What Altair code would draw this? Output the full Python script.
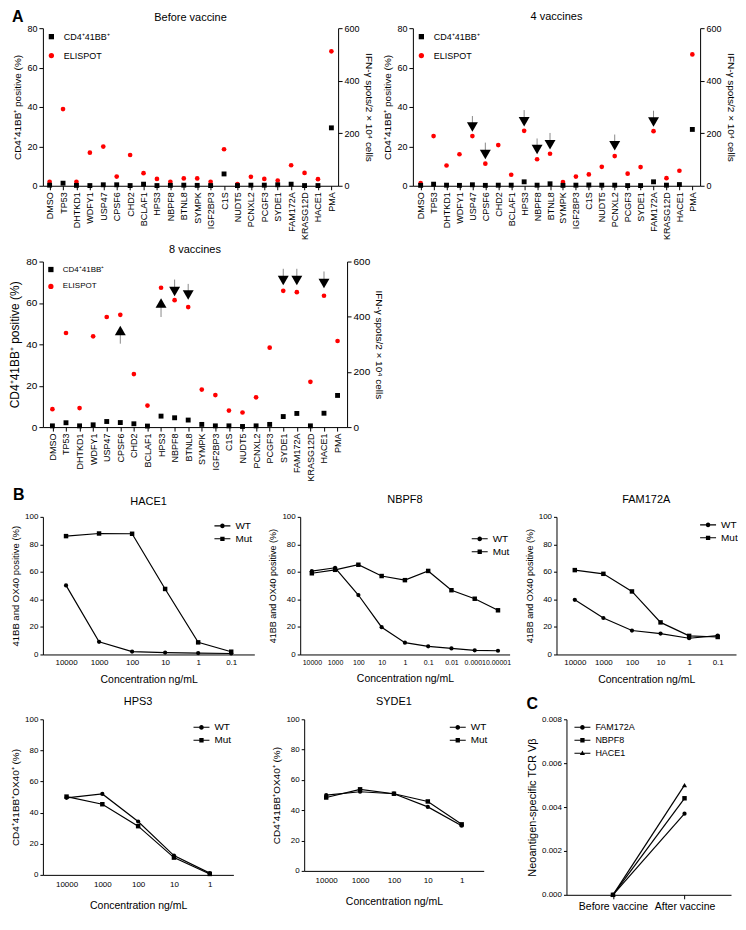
import altair as alt
import pandas as pd

FONT = "Liberation Sans"

# ---------------- Panel A data ----------------
genes = ["DMSO", "TP53", "DHTKD1", "WDFY1", "USP47", "CPSF6", "CHD2", "BCLAF1", "HPS3", "NBPF8",
         "BTNL8", "SYMPK", "IGF2BP3", "C1S", "NUDT5", "PCNXL2", "PCGF3", "SYDE1", "FAM172A",
         "KRASG12D", "HACE1", "PMA"]

before_cd4 = [0.3, 1.3, 0.2, 0.1, 0.5, 0.5, 0.1, 0.8, 0.1, 0.2, 0.3, 0.2, 0.1, 6.0, 0.1, 0.3, 0.3, 0.5, 0.8, 0.1, 0.1, 29.4]
before_elispot = [15, 292, 15, 126, 149, 35, 117, 48, 26, 15, 28, 28, 15, 139, 6, 34, 26, 20, 78, 49, 25, 512]
vac4_cd4 = [0.2, 0.8, 0.3, 0.2, 0.5, 0.2, 0.3, 0.3, 2.0, 0.3, 1.0, 0.2, 0.3, 0.4, 0.3, 0.3, 0.1, 0.1, 2.0, 0.3, 0.6, 28.6]
vac4_elispot = [10, 189, 77, 120, 189, 84, 155, 42, 209, 101, 122, 14, 35, 43, 72, 113, 46, 71, 208, 29, 57, 500]
vac8_cd4 = [0.6, 2.1, 0.6, 1.1, 2.7, 2.2, 1.6, 0.5, 5.3, 4.5, 3.4, 1.3, 0.6, 0.6, 0.3, 0.6, 1.3, 5.1, 6.6, 0.6, 6.7, 15.3]
vac8_elispot = [65, 341, 69, 329, 399, 407, 192, 78, 505, 460, 435, 136, 116, 60, 53, 108, 288, 494, 489, 164, 476, 312]

# arrow annotations (left-axis units): head = triangle centre, tail = end of stem
arr4_genes = ["USP47", "CPSF6", "HPS3", "NBPF8", "BTNL8", "PCNXL2", "FAM172A"]
arr4_dir = ["down"] * 7
arr4_head = [29.8, 15.9, 32.5, 18.4, 20.8, 20.3, 32.4]
arr4_tail = [35.4, 21.9, 38.4, 24.0, 26.8, 26.0, 38.1]
arr8_genes = ["CPSF6", "HPS3", "NBPF8", "BTNL8", "SYDE1", "FAM172A", "HACE1"]
arr8_dir = ["up", "up", "down", "down", "down", "down", "down"]
arr8_head = [46.7, 60.0, 65.5, 63.8, 70.8, 70.8, 69.4]
arr8_tail = [40.3, 53.2, 71.3, 69.2, 76.5, 76.5, 75.2]

# ---------------- Panel B data ----------------
conc6 = ["10000", "1000", "100", "10", "1", "0.1"]
conc9 = ["10000", "1000", "100", "10", "1", "0.1", "0.01", "0.0001", "0.00001"]
conc5 = ["10000", "1000", "100", "10", "1"]
hace1_wt = [50.2, 9.2, 2.1, 1.4, 1.0, 0.7]
hace1_mut = [86.0, 87.9, 87.7, 47.6, 8.8, 2.0]
nbpf8_wt = [60.5, 63.0, 43.2, 19.8, 8.6, 5.9, 4.4, 3.0, 2.7]
nbpf8_mut = [59.0, 61.5, 65.2, 57.0, 54.0, 60.7, 46.7, 40.5, 32.1]
fam_wt = [39.7, 26.5, 17.4, 15.2, 11.8, 13.7]
fam_mut = [61.3, 58.6, 45.8, 23.3, 13.5, 12.7]
hps3_wt = [49.5, 52.0, 34.3, 12.4, 1.1]
hps3_mut = [50.3, 45.4, 31.3, 11.1, 0.6]
syde1_wt = [50.0, 52.2, 50.9, 42.2, 29.8]
syde1_mut = [48.4, 53.8, 50.9, 45.8, 30.7]

# ---------------- Panel C data ----------------
c_times = ["Before vaccine", "After vaccine"]
c_series = ["FAM172A", "NBPF8", "HACE1"]
c_fam172a = [0.0, 0.0037]
c_nbpf8 = [0.0, 0.0044]
c_hace1 = [0.0, 0.0050]

CD4 = "CD4⁺41BB⁺"
ELI = "ELISPOT"
IFN_TITLE = "IFN-γ spots/2 × 10⁴ cells"

# legend glyphs: short line segments with a marker in the middle (pure fills)
SEG_L = "M-1,-0.07L-{a},-0.07L-{a},0.07L-1,0.07Z"
SEG_R = "M{a},-0.07L1,-0.07L1,0.07L{a},0.07Z"
P_CIRCLE = SEG_L.format(a=0.3) + SEG_R.format(a=0.3) + "M-0.3,0A0.3,0.3,0,1,1,0.3,0A0.3,0.3,0,1,1,-0.3,0Z"
P_SQUARE = SEG_L.format(a=0.27) + SEG_R.format(a=0.27) + "M-0.27,-0.27L0.27,-0.27L0.27,0.27L-0.27,0.27Z"
P_TRI = SEG_L.format(a=0.2) + SEG_R.format(a=0.2) + "M0,-0.34L0.32,0.22L-0.32,0.22Z"


def ind(c):
    return c.resolve_scale(color="independent", shape="independent").resolve_legend(
        color="independent", shape="independent")


def text_label(txt, x, y, size, weight="normal", align="left"):
    return alt.Chart(pd.DataFrame({"t": [txt]})).mark_text(
        font=FONT, fontSize=size, fontWeight=weight, align=align, baseline="alphabetic", color="black"
    ).encode(text="t:N", x=alt.value(x), y=alt.value(y))


def panel_a(cd4, eli, a_genes, a_dir, a_head, a_tail, width, height, title, letter=None,
            pad=0.5, fs_cat=9, fs_ytitle=10, fs_ylab=9, fs_leg=9, title_offset=2):
    n = len(genes)
    df = pd.DataFrame({"gene": genes + genes, "series": [CD4] * n + [ELI] * n,
                       "value": list(cd4) + list(eli)})
    adf = pd.DataFrame({"gene": a_genes, "dir": a_dir, "head": a_head, "tail": a_tail})
    xs = alt.Scale(type="point", domain=genes, padding=pad)
    xaxis = alt.Axis(title=None, labelAngle=-90, labelFontSize=fs_cat, tickSize=4, labelPadding=2)
    x = alt.X("gene:N", scale=xs, axis=xaxis)
    cscale = alt.Scale(domain=[CD4, ELI], range=["black", "#ff0000"])
    sscale = alt.Scale(domain=[CD4, ELI], range=["square", "circle"])
    leg = alt.Legend(title=None, orient="top-left", offset=4, labelFontSize=fs_leg, symbolSize=28,
                     rowPadding=9, symbolStrokeWidth=0, labelOffset=8)
    base = alt.Chart(df)
    right = base.transform_filter(alt.datum.series == ELI).mark_point(filled=True, size=22, opacity=1).encode(
        x=x,
        y=alt.Y("value:Q", scale=alt.Scale(domain=[0, 600]),
                axis=alt.Axis(title=IFN_TITLE, orient="right", values=[0, 200, 400, 600], tickSize=4,
                              labelFontSize=fs_ylab, titleFontSize=10, titlePadding=4)),
        color=alt.Color("series:N", scale=cscale, legend=leg),
        shape=alt.Shape("series:N", scale=sscale, legend=leg))
    left = base.transform_filter(alt.datum.series == CD4).mark_point(filled=True, size=24, opacity=1).encode(
        x=x,
        y=alt.Y("value:Q", scale=alt.Scale(domain=[0, 80]),
                axis=alt.Axis(title=CD4 + " positive (%)", orient="left", values=[0, 20, 40, 60, 80],
                              tickSize=4, labelFontSize=fs_ylab, titleFontSize=fs_ytitle, titlePadding=4)),
        color=alt.Color("series:N", scale=cscale, legend=leg),
        shape=alt.Shape("series:N", scale=sscale, legend=leg))
    ay = alt.Y("head:Q", scale=alt.Scale(domain=[0, 80]), axis=None)
    achart = alt.Chart(adf)
    stems = achart.mark_rule(color="#8a8a8a", strokeWidth=1).encode(x=x, y=ay, y2="tail:Q")
    down = achart.transform_filter(alt.datum.dir == "down").mark_point(
        shape="triangle-down", filled=True, color="black", size=120, opacity=1).encode(x=x, y=ay)
    up = achart.transform_filter(alt.datum.dir == "up").mark_point(
        shape="triangle-up", filled=True, color="black", size=120, opacity=1).encode(x=x, y=ay)
    layers = [right, left, stems, down, up]
    props = dict(width=width, height=height)
    if letter:
        layers.append(text_label(letter, -31, -6, 16, "bold"))
        layers.append(text_label(title, width / 2, -7, 11, align="center"))
    else:
        props["title"] = alt.Title(title, fontSize=11, offset=title_offset)
    return alt.layer(*layers).resolve_scale(y="independent").properties(**props)


def line_panel(cats, series, values, shapes, paths, width, height, ytitle, ydomain, yvalues,
               legend_xy, pad=0.65, xtitle="Concentration ng/mL", label_size=8, ytitle_size=9.5,
               title=None, letter=None, yformat=None, xticks=False, xlab_size=8,
               leg_size=10, leg_row=0, xlab_pad=6, xtitle_pad=6):
    rows = []
    for s, vals in zip(series, values):
        for i, (c, v) in enumerate(zip(cats, vals)):
            rows.append({"cat": c, "idx": i, "series": s, "value": v})
    df = pd.DataFrame(rows)
    xaxis_kw = dict(labelAngle=0, ticks=xticks, labelFontSize=xlab_size,
                    labelPadding=xlab_pad, titleFontSize=10.5, titlePadding=xtitle_pad)
    if xticks:
        xaxis_kw["tickSize"] = 4
    xaxis_kw["title"] = xtitle
    x = alt.X("cat:N", scale=alt.Scale(type="point", domain=cats, padding=pad), axis=alt.Axis(**xaxis_kw))
    yaxis_kw = dict(title=ytitle, values=yvalues, labelFontSize=label_size, tickSize=3,
                    titleFontSize=ytitle_size, titlePadding=4, labelPadding=2)
    if yformat:
        yaxis_kw["format"] = yformat
    y = alt.Y("value:Q", scale=alt.Scale(domain=ydomain), axis=alt.Axis(**yaxis_kw))
    base = alt.Chart(df)
    layers = [base.mark_line(color="black", strokeWidth=1.2).encode(
        x=x, y=y, detail="series:N", order=alt.Order("idx:Q"))]
    for s, shp in zip(series, shapes):
        size = 20 if shp == "square" else (26 if shp == "triangle-up" else 18)
        layers.append(base.transform_filter(alt.datum.series == s).mark_point(
            shape=shp, filled=True, color="black", size=size, opacity=1).encode(x=x, y=y))
    layers.append(base.mark_point(filled=True, color="black", opacity=0).encode(
        x=x, y=y,
        shape=alt.Shape("series:N", scale=alt.Scale(domain=series, range=paths),
                        legend=alt.Legend(title=None, orient="none", legendX=legend_xy[0], legendY=legend_xy[1],
                                          symbolSize=256, symbolStrokeWidth=0, symbolOpacity=1,
                                          symbolFillColor="black", labelFontSize=leg_size,
                                          rowPadding=leg_row, labelOffset=5))))
    props = dict(width=width, height=height)
    if letter:
        layers.append(text_label(letter, -30, -17, 16, "bold"))
        layers.append(text_label(title, width / 2, -12, 11, align="center"))
    elif title is not None:
        props["title"] = title
    return alt.layer(*layers).properties(**props)


# ---------------- build panels ----------------
a1 = panel_a(before_cd4, before_elispot, [], [], [], [], 296, 158, "Before vaccine", letter="A")
a2 = panel_a(vac4_cd4, vac4_elispot, arr4_genes, arr4_dir, arr4_head, arr4_tail, 288, 158, "4 vaccines", pad=0.6)
a3 = panel_a(vac8_cd4, vac8_elispot, arr8_genes, arr8_dir, arr8_head, arr8_tail, 305, 166, "8 vaccines",
             pad=0.7, fs_ytitle=12, fs_ylab=10, fs_leg=8)

B_Y = "41BB and OX40 positive (%)"
CD4_Y = "CD4⁺41BB⁺OX40⁺ (%)"
y100 = [0, 20, 40, 60, 80, 100]
ws = ["WT", "Mut"]
wshapes = ["circle", "square"]
wpaths = [P_CIRCLE, P_SQUARE]
TOFF = 8

b_hace1 = line_panel(conc6, ws, [hace1_wt, hace1_mut], wshapes, wpaths, 212, 138, B_Y, [0, 100], y100,
                     (172, 1), pad=0.7, letter="B", title="HACE1", xlab_pad=4, xtitle_pad=8)
b_nbpf8 = line_panel(conc9, ws, [nbpf8_wt, nbpf8_mut], wshapes, wpaths, 210, 138, B_Y, [0, 100], y100,
                     (172, 14), pad=0.5, ytitle_size=9, xlab_size=7, xlab_pad=4, xtitle_pad=8,
                     title=alt.Title("NBPF8", fontSize=11, offset=TOFF))
b_fam = line_panel(conc6, ws, [fam_wt, fam_mut], wshapes, wpaths, 180, 138, B_Y, [0, 100], y100,
                   (144, 0), pad=0.64, ytitle_size=9, xlab_pad=4, xtitle_pad=8,
                   title=alt.Title("FAM172A", fontSize=11, offset=TOFF))
b_hps3 = line_panel(conc5, ws, [hps3_wt, hps3_mut], wshapes, wpaths, 191, 156, CD4_Y, [0, 100], y100,
                    (151, 0), pad=0.66, ytitle_size=10, xtitle_pad=12,
                    title=alt.Title("HPS3", fontSize=11, offset=TOFF))
b_syde1 = line_panel(conc5, ws, [syde1_wt, syde1_mut], wshapes, wpaths, 180, 152, CD4_Y, [0, 100], y100,
                     (146, 0), pad=0.65, ytitle_size=10, xtitle_pad=12,
                     title=alt.Title("SYDE1", fontSize=11, offset=TOFF))
c_panel = line_panel(c_times, c_series, [c_fam172a, c_nbpf8, c_hace1], ["circle", "square", "triangle-up"],
                     [P_CIRCLE, P_SQUARE, P_TRI], 165, 176, "Neoantigen-specific TCR Vβ", [0, 0.008],
                     [0, 0.002, 0.004, 0.006, 0.008], (8, 0), pad=0.65, xtitle=None, ytitle_size=11,
                     yformat=".3f", xticks=True, xlab_size=10.5, leg_size=9, leg_row=-2, xlab_pad=3,
                     title=alt.Title("C", anchor="start", fontSize=16, fontWeight="bold", offset=3))

rowA1 = ind(alt.hconcat(a1, a2, spacing=8))
topA = ind(alt.vconcat(rowA1, a3, spacing=3))
rowB1 = ind(alt.hconcat(b_hace1, b_nbpf8, b_fam, spacing=14))
rowB2 = ind(alt.hconcat(b_hps3, b_syde1, c_panel, spacing=38))
bottom = ind(alt.vconcat(rowB1, rowB2, spacing=11))

chart = ind(alt.vconcat(topA, bottom, spacing=5)).properties(padding=0).configure(
    font=FONT
).configure_view(
    stroke=None
).configure_axis(
    grid=False, labelFont=FONT, titleFont=FONT, labelColor="black", titleColor="black",
    domainColor="black", tickColor="black", titleFontWeight="normal", domainWidth=1, tickWidth=1
).configure_legend(
    labelFont=FONT, labelColor="black"
).configure_title(
    font=FONT, fontWeight="normal", color="black"
)

chart.save("out.html", embed_options={"renderer": "svg", "actions": False})
